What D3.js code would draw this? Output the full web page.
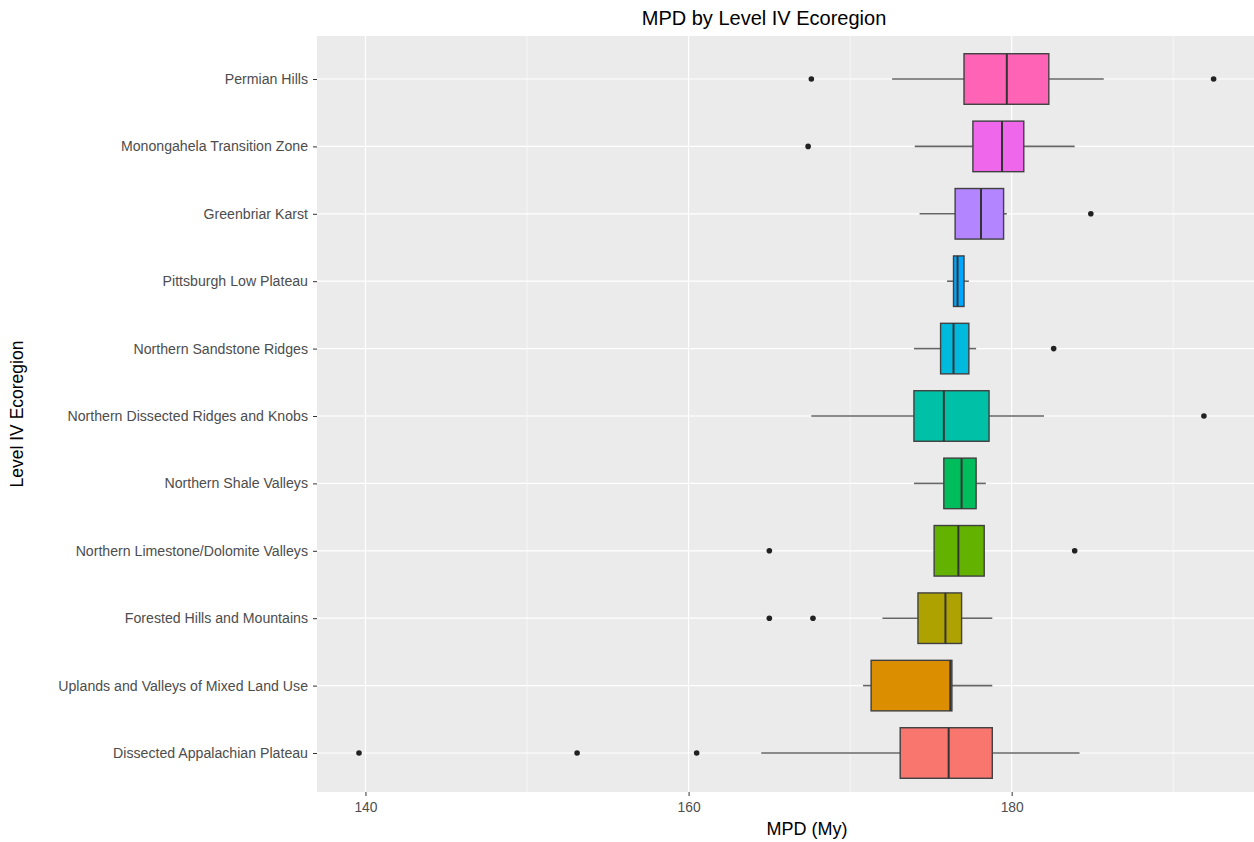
<!DOCTYPE html>
<html><head><meta charset="utf-8">
<script src="https://cdn.jsdelivr.net/npm/d3@7"></script>
<style>body{margin:0;background:#fff;}svg{display:block;font-family:"Liberation Sans",Arial,sans-serif;}</style>
</head><body><svg id="c" width="1254" height="842"></svg>
<script>
// Categories bottom to top (factor order)
const categories = ["Dissected Appalachian Plateau","Uplands and Valleys of Mixed Land Use","Forested Hills and Mountains","Northern Limestone/Dolomite Valleys","Northern Shale Valleys","Northern Dissected Ridges and Knobs","Northern Sandstone Ridges","Pittsburgh Low Plateau","Greenbriar Karst","Monongahela Transition Zone","Permian Hills"];
const whiskerLow  = [164.5, 170.8, 172.0, 175.2, 173.95, 167.6, 173.95, 176.0, 174.3, 174.0, 172.6];
const q1          = [173.1, 171.3, 174.2, 175.2, 175.8, 173.95, 175.6, 176.4, 176.5, 177.6, 177.05];
const median      = [176.1, 176.2, 175.9, 176.7, 176.9, 175.8, 176.4, 176.65, 178.1, 179.4, 179.7];
const q3          = [178.8, 176.3, 176.9, 178.3, 177.8, 178.6, 177.35, 177.05, 179.5, 180.75, 182.3];
const whiskerHigh = [184.2, 178.8, 178.8, 178.3, 178.4, 182.0, 177.8, 177.35, 179.7, 183.9, 185.7];
const outliers    = [[139.6,153.1,160.5],[],[165.0,167.7],[165.0,183.9],[],[191.9],[182.6],[],[184.9],[167.4],[167.6,192.5]];
const colors      = ["#F8766D","#DB8E00","#AEA200","#64B200","#00BD5C","#00C1A7","#00BADE","#00A6FF","#B385FF","#EF67EB","#FF63B6"];
const xTicks = [140,160,180];
const xMinor = [150,170,190];

const svg = d3.select("#c");
const L=317, R=1254, T=36, B=792;
const x = d3.scaleLinear().domain([137.0, 195.0]).range([L,R]);
const y = d3.scalePoint().domain(categories).range([753, 79]);
const step = (753-79)/(categories.length-1);

svg.append("rect").attr("x",L).attr("y",T).attr("width",R-L).attr("height",B-T).attr("fill","#EBEBEB");
const g = svg.append("g");
xMinor.forEach(v=>g.append("line").attr("x1",x(v)).attr("x2",x(v)).attr("y1",T).attr("y2",B).attr("stroke","#fff").attr("stroke-width",0.6));
xTicks.forEach(v=>g.append("line").attr("x1",x(v)).attr("x2",x(v)).attr("y1",T).attr("y2",B).attr("stroke","#fff").attr("stroke-width",1.2));
categories.forEach(c=>g.append("line").attr("x1",L).attr("x2",R).attr("y1",y(c)).attr("y2",y(c)).attr("stroke","#fff").attr("stroke-width",1.2));

// axes
const xa = svg.append("g").attr("transform",`translate(0,${B})`).call(d3.axisBottom(x).tickValues(xTicks).tickSize(4).tickPadding(6));
xa.select(".domain").remove();
xa.selectAll("line").attr("stroke","#333");
xa.selectAll("text").attr("fill","#4D4D4D").attr("font-size","13.8px").attr("font-family","Liberation Sans, Arial, sans-serif");

const ya = svg.append("g").attr("transform",`translate(${L},0)`).call(d3.axisLeft(y).tickSize(4).tickPadding(5));
ya.select(".domain").remove();
ya.selectAll("line").attr("stroke","#333");
ya.selectAll("text").attr("fill","#4D4D4D").attr("font-size","14.15px").attr("font-family","Liberation Sans, Arial, sans-serif");

const bh = step*0.75;
categories.forEach((c,i)=>{
  const cy = y(c);
  g.append("line").attr("x1",x(whiskerLow[i])).attr("x2",x(q1[i])).attr("y1",cy).attr("y2",cy).attr("stroke","#666").attr("stroke-width",1.6);
  g.append("line").attr("x1",x(q3[i])).attr("x2",x(whiskerHigh[i])).attr("y1",cy).attr("y2",cy).attr("stroke","#666").attr("stroke-width",1.6);
  g.append("rect").attr("x",x(q1[i])).attr("y",cy-bh/2).attr("width",x(q3[i])-x(q1[i])).attr("height",bh)
    .attr("fill",colors[i]).attr("stroke","#404040").attr("stroke-width",1.4);
  g.append("line").attr("x1",x(median[i])).attr("x2",x(median[i])).attr("y1",cy-bh/2).attr("y2",cy+bh/2).attr("stroke","#333").attr("stroke-width",2);
  outliers[i].forEach(v=>g.append("circle").attr("cx",x(v)).attr("cy",cy).attr("r",2.8).attr("fill","#222"));
});

svg.append("text").attr("x",764).attr("y",25).attr("text-anchor","middle").attr("font-size","20px").attr("fill","#000").text("MPD by Level IV Ecoregion");
svg.append("text").attr("x",807).attr("y",835).attr("text-anchor","middle").attr("font-size","18px").attr("fill","#000").text("MPD (My)");
svg.append("text").attr("transform","translate(23,414) rotate(-90)").attr("text-anchor","middle").attr("font-size","17.5px").attr("fill","#000").text("Level IV Ecoregion");
</script></body></html>
